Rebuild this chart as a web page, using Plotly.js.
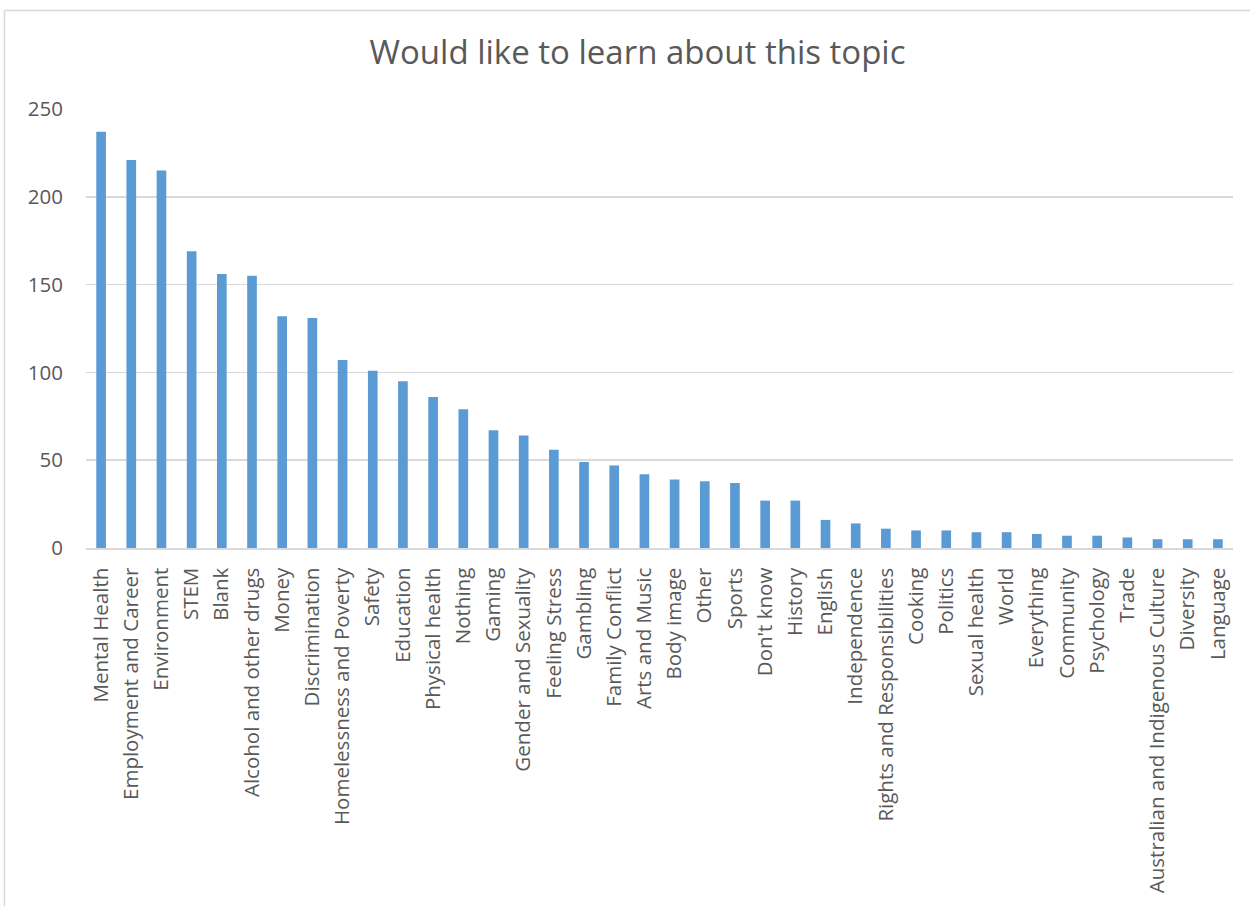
<!DOCTYPE html>
<html>
<head>
<meta charset="utf-8">
<script src="https://cdn.plot.ly/plotly-3.0.1.min.js"></script>
<style>
  html, body { margin: 0; padding: 0; background: #ffffff; }
  #chart { width: 1250px; height: 906px; }
</style>
</head>
<body>
<div id="chart"></div>
<script>
const categories = [
  "Mental Health", "Employment and Career", "Environment", "STEM", "Blank",
  "Alcohol and other drugs", "Money", "Discrimination", "Homelessness and Poverty",
  "Safety", "Education", "Physical health", "Nothing", "Gaming",
  "Gender and Sexuality", "Feeling Stress", "Gambling", "Family Conflict",
  "Arts and Music", "Body image", "Other", "Sports", "Don't know", "History",
  "English", "Independence", "Rights and Responsibilities", "Cooking", "Politics",
  "Sexual health", "World", "Everything", "Community", "Psychology", "Trade",
  "Australian and Indigenous Culture", "Diversity", "Language"
];
const counts = [
  237, 221, 215, 169, 156,
  155, 132, 131, 107,
  101, 95, 86, 79, 67,
  64, 56, 49, 47,
  42, 39, 38, 37, 27, 27,
  16, 14, 11, 10, 10,
  9, 9, 8, 7, 7, 6,
  5, 5, 5
];
const yTicks = [0, 50, 100, 150, 200, 250];
const titleText = "Would like to learn about this topic";

const trace = {
  type: "bar",
  x: categories,
  y: counts,
  marker: { color: "#5b9bd5", line: { width: 0 } },
  hoverinfo: "x+y"
};

const gray = "#d9d9d9";
const layout = {
  width: 1250,
  height: 906,
  margin: { l: 86, r: 17, t: 109, b: 358, pad: 0 },
  paper_bgcolor: "#ffffff",
  plot_bgcolor: "#ffffff",
  showlegend: false,
  bargap: 0.68,
  font: { family: "Open Sans, sans-serif", color: "#595959" },
  title: {
    text: titleText,
    font: { family: "Open Sans, sans-serif", size: 33, color: "#595959" },
    x: 0.51, xref: "container", xanchor: "center",
    y: 0.942, yref: "container", yanchor: "middle"
  },
  xaxis: {
    type: "category",
    tickangle: -90,
    tickfont: { size: 20.5, color: "#595959" },
    showgrid: false,
    showline: true,
    linecolor: gray,
    linewidth: 1.5,
    ticks: "",
    ticklabelstandoff: 10,
    automargin: false
  },
  yaxis: {
    range: [0, 250],
    tickvals: yTicks,
    ticktext: yTicks.map(String),
    tickfont: { size: 20.5, color: "#595959" },
    showgrid: true,
    gridcolor: gray,
    gridwidth: 1.5,
    zeroline: false,
    showline: false,
    ticks: "",
    ticklabelstandoff: 22,
    automargin: false
  },
  shapes: [
    { type: "line", xref: "paper", yref: "paper",
      x0: -0.0711, x1: -0.0711, y0: 1.2244, y1: -1.0,
      line: { color: gray, width: 1.5 } },
    { type: "line", xref: "paper", yref: "paper",
      x0: -0.0711, x1: 1.05, y0: 1.2244, y1: 1.2244,
      line: { color: gray, width: 1.5 } }
  ]
};

Plotly.newPlot("chart", [trace], layout, { displayModeBar: false, staticPlot: true });
</script>
</body>
</html>
